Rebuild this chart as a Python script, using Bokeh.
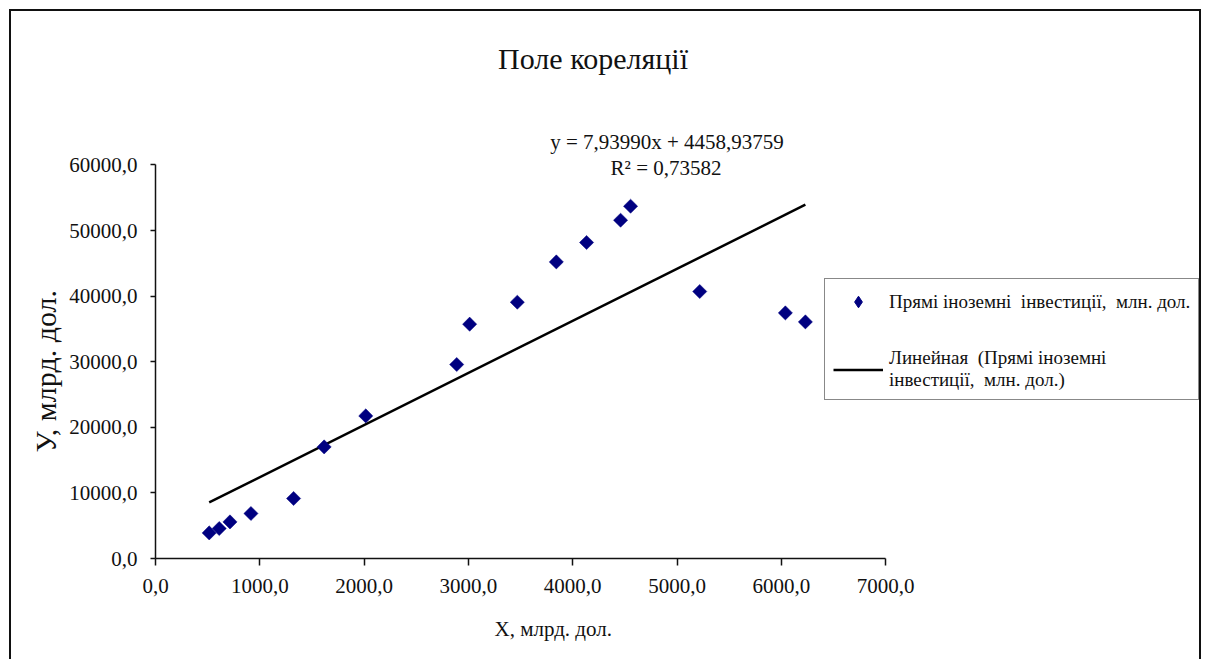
import numpy as np
from bokeh.plotting import figure
from bokeh.models import (Range1d, FixedTicker, Label, Legend, LegendItem,
                          ColumnDataSource, Title)
from bokeh.embed import file_html
from bokeh.resources import INLINE

# ---- data ----
x_values = [515, 611, 714, 915, 1324, 1617, 2016, 2888, 3012, 3469, 3843,
            4133, 4459, 4555, 5218, 6039, 6231]
y_values = [3900, 4570, 5580, 6860, 9150, 17010, 21740, 29570, 35720, 39070,
            45210, 48170, 51570, 53700, 40700, 37440, 36070]

slope = 7.93990
intercept = 4458.93759
r_squared = 0.73582

x_ticks = [0, 1000, 2000, 3000, 4000, 5000, 6000, 7000]
x_tick_labels = ["0,0", "1000,0", "2000,0", "3000,0", "4000,0", "5000,0", "6000,0", "7000,0"]
y_ticks = [0, 10000, 20000, 30000, 40000, 50000, 60000]
y_tick_labels = ["0,0", "10000,0", "20000,0", "30000,0", "40000,0", "50000,0", "60000,0"]

title_text = "Поле кореляції"
x_label_text = "Х, млрд. дол."
y_label_text = "У, млрд. дол."
series_name = "Прямі іноземні  інвестиції,  млн. дол."
trend_name = "Линейная  (Прямі іноземні\nінвестиції,  млн. дол.)"

FONT = "Liberation Serif"
INK = "#111111"

# ---- layout geometry (pixels) ----
W, H = 1192, 650
BORDER_LEFT, BORDER_BOTTOM = 144, 103
PX_PER_X = 0.1043      # pixels per x unit
PX_PER_Y = 0.00656     # pixels per y unit
x_end = (W - BORDER_LEFT) / PX_PER_X
y_end = (H - BORDER_BOTTOM) / PX_PER_Y

p = figure(width=W, height=H, output_backend="svg", toolbar_location=None,
           x_range=Range1d(0, x_end), y_range=Range1d(0, y_end),
           min_border_left=BORDER_LEFT, min_border_right=0, min_border_top=0,
           min_border_bottom=BORDER_BOTTOM)
p.styles = {"margin-left": "9px", "margin-top": "9px",
            "border": "2px solid #111111", "border-bottom": "none"}
p.outline_line_color = None
p.xgrid.visible = False
p.ygrid.visible = False
p.background_fill_color = "white"
p.border_fill_color = "white"

for ax in (p.xaxis[0], p.yaxis[0]):
    ax.axis_line_color = INK
    ax.axis_line_width = 1.5
    ax.major_tick_line_color = INK
    ax.major_tick_line_width = 1.5
    ax.major_tick_in = 0
    ax.minor_tick_line_color = None
    ax.major_label_text_font = FONT
    ax.major_label_text_font_size = "21px"
    ax.major_label_text_color = INK

p.xaxis[0].ticker = FixedTicker(ticks=x_ticks)
p.xaxis[0].major_label_overrides = dict(zip(x_ticks, x_tick_labels))
p.xaxis[0].bounds = (x_ticks[0], x_ticks[-1])
p.xaxis[0].major_tick_out = 7
p.xaxis[0].major_label_standoff = 13

p.yaxis[0].ticker = FixedTicker(ticks=y_ticks)
p.yaxis[0].major_label_overrides = dict(zip(y_ticks, y_tick_labels))
p.yaxis[0].bounds = (y_ticks[0], y_ticks[-1])
p.yaxis[0].major_tick_out = 5
p.yaxis[0].major_label_standoff = 13

# axis titles as side titles so they can be positioned like the original
p.add_layout(Title(text=x_label_text, text_font=FONT, text_font_size="21px",
                   text_font_style="normal", text_color=INK, align="left",
                   offset=339, standoff=38), "below")
p.add_layout(Title(text=y_label_text, text_font=FONT, text_font_size="30px",
                   text_font_style="normal", text_color=INK, align="left",
                   offset=106, standoff=9), "left")

# trend line
tx = [min(x_values), max(x_values)]
ty = [slope * v + intercept for v in tx]
r_line = p.line(tx, ty, line_color="black", line_width=2.5)

# points
src = ColumnDataSource(dict(x=x_values, y=y_values))
r_pts = p.scatter("x", "y", source=src, marker="square", angle=np.pi / 4,
                  size=10, fill_color="#000080", line_color="#000080", line_width=0.5)
# legend swatch (diamond), not drawn in the plot area
r_swatch = p.scatter([np.nan], [np.nan], marker="diamond", size=11,
                     fill_color="#000080", line_color="#000080")

# title and regression texts
p.add_layout(Label(x=4195, y=76200, text=title_text, text_font=FONT,
                   text_font_size="30px", text_align="center",
                   text_baseline="middle", text_color=INK))

eq1 = "y = " + f"{slope:.5f}".replace(".", ",") + "x + " + f"{intercept:.5f}".replace(".", ",")
eq2 = "R² = " + f"{r_squared:.5f}".replace(".", ",")
p.add_layout(Label(x=4904, y=63510, text=eq1, text_font=FONT,
                   text_font_size="21px", text_align="center",
                   text_baseline="middle", text_color=INK))
p.add_layout(Label(x=4895, y=59500, text=eq2, text_font=FONT,
                   text_font_size="21px", text_align="center",
                   text_baseline="middle", text_color=INK))

legend = Legend(items=[LegendItem(label=series_name, renderers=[r_swatch]),
                       LegendItem(label=trend_name, renderers=[r_line])],
                location=(669, 158))
legend.label_text_font = FONT
legend.label_text_font_size = "19px"
legend.label_text_color = INK
legend.glyph_width = 50
legend.glyph_height = 29
legend.label_standoff = 6
legend.padding = 8
legend.spacing = 31
legend.margin = 0
legend.label_width = 296
legend.border_line_color = INK
legend.border_line_width = 1.5
legend.background_fill_color = "white"
legend.background_fill_alpha = 1.0
p.add_layout(legend, "center")

open("out.html", "w").write(file_html(p, INLINE))
